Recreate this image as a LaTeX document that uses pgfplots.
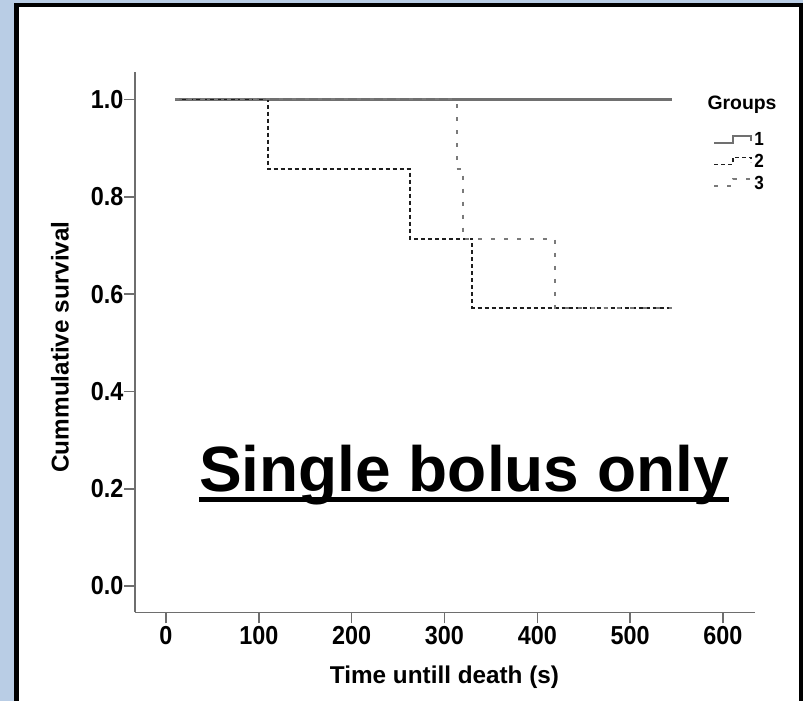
\documentclass[border=0pt]{standalone}
\usepackage{pgfplots}
\pgfplotsset{compat=1.18}
\usepackage{fontspec}
\setmainfont{Liberation Sans}
\newfontfamily\condfont[FakeStretch=0.9]{Liberation Sans}
\definecolor{bgblue}{HTML}{B9CDE5}
\definecolor{axgray}{HTML}{6E6E6E}
\definecolor{gone}{HTML}{707070}
\definecolor{gtwo}{HTML}{1E1E1E}
\definecolor{gthree}{HTML}{7A7A7A}
\begin{document}
\begin{tikzpicture}
\useasboundingbox (0,0) rectangle (803pt,701pt);
\fill[bgblue] (0,0) rectangle (803pt,701pt);
\draw[line width=4.5pt, fill=white] (16.5pt,-20pt) rectangle (801pt,696pt);
\begin{axis}[
  at={(135pt,88.5pt)}, anchor=south west,
  scale only axis, width=620pt, height=540pt,
  xmin=-33.4, xmax=634.5, ymin=-0.0544, ymax=1.0554,
  axis lines=left, axis line style={-, axgray, line width=1.6pt},
  tick style={axgray, line width=1.6pt}, tick align=outside, major tick length=11pt,
  xtick={0,100,...,600}, ytick={0,0.2,0.4,0.6,0.8,1.0},
  yticklabels={0.0,0.2,0.4,0.6,0.8,1.0},
  ticklabel style={font=\condfont\fontsize{26}{30}\selectfont\bfseries, text=black},
  yticklabel style={xshift=3pt},
  xticklabel style={yshift=1pt},
  /pgf/number format/assume math mode=true,
  legend image code/.code={\draw[#1] (0pt,-3pt) -- (19pt,-3pt) -- (19pt,4pt) -- (37pt,4pt) -- (37pt,-1pt);},
  legend style={draw=none, fill=none, at={(0.932,0.893)}, anchor=north west,
    font=\condfont\fontsize{19}{22}\selectfont\bfseries, inner sep=0pt, row sep=3pt,
    nodes={inner sep=2pt}},
  legend cell align=left,
]
\addplot[gone, line width=2.2pt, const plot] coordinates {(10,1) (545,1)};
\addlegendentry{1}
\addplot[gtwo, line width=1.8pt, const plot, dash pattern=on 4pt off 3pt] coordinates {(10,1) (110,0.857) (263,0.714) (330,0.571) (545,0.571)};
\addlegendentry{2}
\addplot[gthree, line width=2pt, const plot, dash pattern=on 4pt off 9pt] coordinates {(10,1) (313,0.857) (320,0.714) (419,0.571) (545,0.571)};
\addlegendentry{3}
\end{axis}
\node[font=\fontsize{24.3}{28}\selectfont\bfseries, anchor=base] at (444.5pt,17pt) {Time untill death (s)};
\node[font=\fontsize{24.3}{28}\selectfont\bfseries, rotate=90] at (60pt,354pt) {Cummulative survival};
\node[font=\fontsize{19.4}{22}\selectfont\bfseries] at (742pt,596pt) {Groups};
\node[font=\fontsize{64}{70}\selectfont\bfseries, anchor=base, inner sep=0pt] (t) at (464pt,209pt) {Single bolus only};
\draw[line width=5pt] ([yshift=-7.5pt]t.base west) -- ([yshift=-7.5pt]t.base east);
\end{tikzpicture}
\end{document}
